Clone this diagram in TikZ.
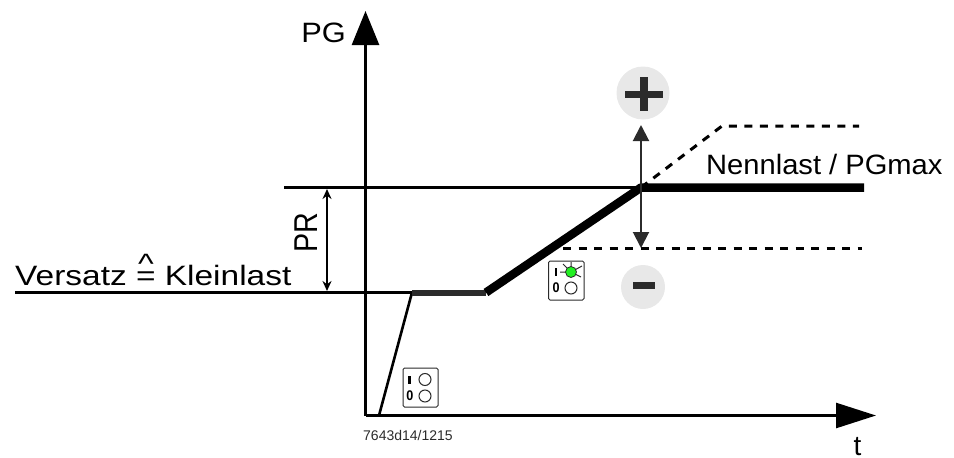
\documentclass[tikz,border=0pt]{standalone}
\usepackage{fontspec}
\setmainfont{Liberation Sans}
\usetikzlibrary{arrows.meta}
\definecolor{ink}{HTML}{2B2B2B}
\definecolor{disc}{HTML}{E8E8E8}
\definecolor{lamp}{HTML}{22F022}
\newcommand{\corresponds}{\makebox[0pt][l]{\makebox[0.584em][c]{\raisebox{0.40em}{\^{}}}}=}
\newcommand{\wide}[2]{\scalebox{#1}[1]{#2}}
\tikzset{
  x=1pt,y=-1pt,
  lab/.style={inner sep=0pt,font=\fontsize{28}{28}\selectfont,text=black},
  axisline/.style={line width=2.6pt},
  baseline/.style={line width=2.6pt,black},
  heavy/.style={line width=8.5pt,black,line cap=butt},
  midline/.style={line width=6pt,ink},
  dashline/.style={line width=3pt,black,dash pattern=on 8pt off 7.5pt},
  updown/.style={line width=2pt,ink,{Triangle[length=16pt,width=16pt]}-{Triangle[length=16pt,width=16pt]}},
  thinarrow/.style={line width=1.8pt,black,{Stealth[length=10pt,width=9pt]}-{Stealth[length=10pt,width=9pt]}},
  sw/.style={draw=ink,line width=1pt,rounded corners=1.5pt,fill=white},
  lampoff/.style={draw=ink,line width=1pt,fill=white},
  signdisc/.style={fill=disc,draw=none,circle,inner sep=0pt},
  swmark/.style={inner sep=0pt,font=\fontsize{14}{14}\selectfont\bfseries,text=black},
}
\begin{document}
\begin{tikzpicture}
\useasboundingbox (0,0) rectangle (954,458);
% key points
\coordinate (origin) at (365.5,415.5);
\coordinate (ytip) at (365.5,11);
\coordinate (xtip) at (876,415.5);
\coordinate (lowL) at (15,292.5);
\coordinate (lowM) at (412,292.5);
\coordinate (lowR) at (486,292.5);
\coordinate (rampS) at (379,415.5);
\coordinate (ratedL) at (284,187.5);
\coordinate (knee) at (641,187.5);
\coordinate (ratedR) at (864,187.5);
\coordinate (upK) at (722,126);
\coordinate (upR) at (859,126);
\coordinate (dnL) at (563,248);
\coordinate (dnR) at (862,248);
\coordinate (arrT) at (641,125);
\coordinate (arrB) at (641,248);
\coordinate (prT) at (327,189);
\coordinate (prB) at (327,291);
% axes
\draw[axisline,-{Triangle[length=34pt,width=27pt]}] (origin) -- (ytip);
\draw[axisline,-{Triangle[length=40pt,width=25pt]}] (origin) -- (xtip);
% curves
\draw[baseline] (lowL) -- (lowM);
\draw[baseline] (ratedL) -- (knee);
\draw[baseline] (rampS) -- (lowM);
\draw[midline] (lowM) -- (lowR);
\draw[heavy,line join=bevel] (lowR) -- (knee) -- (ratedR);
\draw[dashline] (knee) -- (upK) -- (upR);
\draw[dashline] (dnL) -- (dnR);
\draw[updown] (arrT) -- (arrB);
\draw[thinarrow] (prT) -- (prB);
% labels
\node[lab,anchor=base east] (pg) at (346,42) {\wide{1.1}{PG}};
\node[lab,anchor=base] (t) at (857.5,455) {t};
\node[lab,anchor=base west] (nenn) at (706,174) {\wide{1.04}{Nennlast / PGmax}};
\node[lab,anchor=base west] (versatz) at (15,285) {\wide{1.195}{Versatz \corresponds{} Kleinlast}};
\node[lab,anchor=base,rotate=90,font=\fontsize{33}{33}\selectfont] (pr) at (317.5,233) {\wide{0.87}{PR}};
\node[inner sep=0pt,anchor=base west,font=\fontsize{14}{14}\selectfont,text=ink] (code) at (363,440) {7643d14/1215};
% plus and minus
\node[signdisc,minimum size=53pt] (plus) at (643,93) {};
\fill[ink] (625,91) rectangle (663,98);
\fill[ink] (640,77) rectangle (648,111);
\node[signdisc,minimum size=44pt] (minus) at (643,287) {};
\fill[ink] (633,282) rectangle (655,289);
% switch, lamp on
\draw[sw] (548.5,261) rectangle (584,300);
\draw[line width=1pt,ink] (571,272) -- ++(-11,0) (571,272) -- ++(-8,-8) (571,272) -- ++(0,-10) (571,272) -- ++(11,-6) (571,272) -- ++(10,5);
\node[circle,draw=ink,line width=.8pt,fill=lamp,minimum size=11pt,inner sep=0pt] (lampA) at (571,272) {};
\node[circle,lampoff,minimum size=12pt,inner sep=0pt] (lampB) at (571,288) {};
\fill[black] (555,268) rectangle (556.5,276);
\node[swmark] (zeroA) at (556,288) {\wide{0.9}{0}};
% switch, lamps off
\draw[sw] (403,368) rectangle (438,407);
\node[circle,lampoff,minimum size=12pt,inner sep=0pt] (lampC) at (425,379.5) {};
\node[circle,lampoff,minimum size=12pt,inner sep=0pt] (lampD) at (425,396) {};
\fill[black] (408,376) rectangle (410.5,384);
\node[swmark] (zeroB) at (410,396) {\wide{0.9}{0}};
\end{tikzpicture}
\end{document}
